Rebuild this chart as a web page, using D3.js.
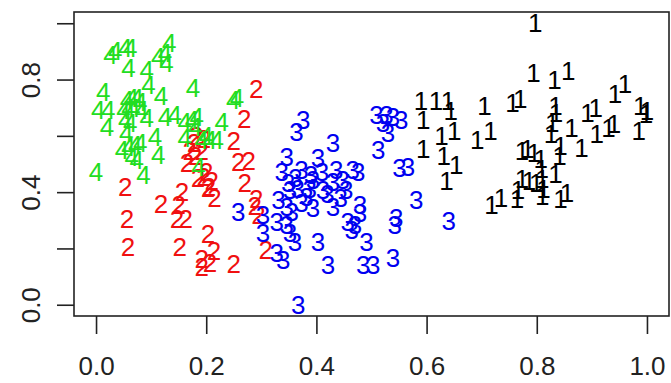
<!DOCTYPE html>
<html>
<head>
<meta charset="utf-8">
<script src="https://cdn.jsdelivr.net/npm/d3@7"></script>
<style>
  html, body { margin: 0; padding: 0; background: #fff; }
  svg { display: block; }
</style>
</head>
<body>
<svg id="chart" width="671" height="383"></svg>
<script>
// Cluster members, drawn as their cluster number at (x, y)
const cluster1 = [
  [0.797,1.000],[0.794,0.824],[0.832,0.800],[0.857,0.830],[0.942,0.747],[0.960,0.783],
  [0.988,0.706],[0.998,0.676],[0.985,0.617],[0.590,0.724],[0.594,0.658],[0.617,0.724],
  [0.639,0.724],[0.644,0.688],[0.705,0.706],[0.756,0.718],[0.770,0.730],[0.627,0.599],
  [0.650,0.617],[0.692,0.587],[0.716,0.617],[0.594,0.552],[0.631,0.528],[0.654,0.498],
  [0.636,0.439],[0.718,0.356],[0.735,0.380],[0.764,0.374],[0.766,0.409],[0.773,0.546],
  [0.783,0.552],[0.795,0.540],[0.807,0.517],[0.809,0.482],[0.810,0.446],[0.812,0.410],
  [0.810,0.387],[0.773,0.445],[0.786,0.439],[0.799,0.433],[0.834,0.706],[0.835,0.682],
  [0.828,0.647],[0.826,0.605],[0.843,0.563],[0.841,0.528],[0.834,0.463],[0.843,0.374],
  [0.855,0.397],[0.863,0.629],[0.881,0.558],[0.892,0.682],[0.907,0.700],[0.909,0.605],
  [0.930,0.629],[0.940,0.641],[1.000,0.690]
];
const cluster2 = [
  [0.291,0.765],[0.269,0.660],[0.250,0.580],[0.258,0.506],[0.277,0.510],[0.270,0.433],
  [0.291,0.374],[0.288,0.350],[0.295,0.318],[0.308,0.196],[0.250,0.144],[0.053,0.420],
  [0.056,0.305],[0.058,0.204],[0.118,0.358],[0.156,0.400],[0.150,0.356],[0.147,0.305],
  [0.163,0.305],[0.152,0.204],[0.203,0.252],[0.214,0.192],[0.192,0.163],[0.192,0.133],
  [0.207,0.150],[0.182,0.600],[0.170,0.545],[0.165,0.505],[0.180,0.530],[0.192,0.545],
  [0.200,0.470],[0.210,0.440],[0.203,0.415],[0.215,0.380],[0.195,0.455],[0.178,0.575],
  [0.196,0.590],[0.205,0.420],[0.185,0.450]
];
const cluster3 = [
  [0.376,0.656],[0.364,0.615],[0.430,0.573],[0.509,0.674],[0.527,0.674],[0.539,0.668],
  [0.554,0.656],[0.521,0.644],[0.530,0.609],[0.512,0.550],[0.551,0.485],[0.566,0.490],
  [0.346,0.526],[0.403,0.520],[0.337,0.472],[0.373,0.478],[0.394,0.443],[0.349,0.431],
  [0.352,0.407],[0.366,0.410],[0.382,0.384],[0.436,0.478],[0.466,0.478],[0.476,0.472],
  [0.430,0.437],[0.448,0.443],[0.412,0.407],[0.454,0.407],[0.331,0.372],[0.346,0.348],
  [0.355,0.330],[0.373,0.360],[0.394,0.342],[0.430,0.348],[0.258,0.330],[0.303,0.319],
  [0.328,0.295],[0.346,0.283],[0.479,0.354],[0.479,0.325],[0.457,0.295],[0.470,0.283],
  [0.464,0.265],[0.545,0.307],[0.542,0.283],[0.303,0.254],[0.352,0.254],[0.361,0.224],
  [0.403,0.224],[0.491,0.224],[0.328,0.183],[0.340,0.159],[0.421,0.141],[0.485,0.141],
  [0.503,0.141],[0.539,0.165],[0.367,0.000],[0.581,0.372],[0.640,0.297],[0.390,0.460],
  [0.410,0.470],[0.362,0.450],[0.420,0.395],[0.388,0.410],[0.444,0.380]
];
const cluster4 = [
  [0.026,0.887],[0.035,0.900],[0.053,0.911],[0.062,0.911],[0.059,0.840],[0.092,0.834],
  [0.095,0.780],[0.113,0.881],[0.125,0.893],[0.128,0.858],[0.133,0.930],[0.118,0.740],
  [0.176,0.770],[0.249,0.727],[0.256,0.733],[0.013,0.757],[0.004,0.692],[0.022,0.692],
  [0.020,0.630],[0.056,0.727],[0.065,0.733],[0.074,0.733],[0.080,0.721],[0.050,0.692],
  [0.059,0.698],[0.068,0.698],[0.083,0.692],[0.092,0.662],[0.053,0.656],[0.062,0.644],
  [0.055,0.610],[0.107,0.597],[0.125,0.668],[0.143,0.674],[0.113,0.532],[0.161,0.650],
  [0.174,0.656],[0.183,0.668],[0.180,0.632],[0.228,0.650],[0.161,0.591],[0.192,0.585],
  [0.207,0.585],[0.219,0.585],[0.047,0.550],[0.059,0.561],[0.071,0.567],[0.080,0.573],
  [0.074,0.514],[0.065,0.526],[0.000,0.472],[0.086,0.461],[0.186,0.490],[0.200,0.600]
];

const clusterLabels = ["1", "2", "3", "4"];
const clusterColors = ["#000000", "#f01010", "#0000f0", "#22dd22"];
const xTicks = [0, 0.2, 0.4, 0.6, 0.8, 1.0];
const yTicks = [0, 0.2, 0.4, 0.6, 0.8, 1.0];
const yTickLabels = [0, 0.4, 0.8];

const svg = d3.select("#chart");
const box = { left: 74, right: 669, top: 12, bottom: 316 };
const fontFamily = "'Liberation Sans', Arial, sans-serif";

// Data range 0..1 padded by 4% on each side
const x = d3.scaleLinear().domain([-0.04, 1.04]).range([box.left, box.right]);
const y = d3.scaleLinear().domain([-0.04, 1.04]).range([box.bottom, box.top]);

// Points drawn as their cluster number
const groups = [cluster1, cluster2, cluster3, cluster4];
groups.forEach((pts, i) => {
  svg.append("g")
    .selectAll("text")
    .data(pts)
    .join("text")
    .attr("x", d => x(d[0]))
    .attr("y", d => y(d[1]))
    .attr("text-anchor", "middle")
    .attr("dominant-baseline", "central")
    .attr("font-family", fontFamily)
    .attr("font-size", 26)
    .attr("fill", clusterColors[i])
    .text(clusterLabels[i]);
});

// Bottom axis
const xAxis = d3.axisBottom(x).tickValues(xTicks).tickSize(18).tickPadding(23)
  .tickFormat(d3.format(".1f"));
const gx = svg.append("g").attr("transform", `translate(0,${box.bottom})`).call(xAxis);
gx.select(".domain").remove();
gx.selectAll(".tick line").attr("stroke", "#222").attr("stroke-width", 1.6);
gx.selectAll(".tick text")
  .attr("font-family", fontFamily).attr("font-size", 26).attr("fill", "#222");

// Left axis, labels rotated and only every other one shown
const yAxis = d3.axisLeft(y).tickValues(yTicks).tickSize(17).tickPadding(0)
  .tickFormat(d => yTickLabels.some(v => Math.abs(v - d) < 1e-9) ? d3.format(".1f")(d) : "");
const gy = svg.append("g").attr("transform", `translate(${box.left},0)`).call(yAxis);
gy.select(".domain").remove();
gy.selectAll(".tick line").attr("stroke", "#222").attr("stroke-width", 1.6);
gy.selectAll(".tick text")
  .attr("font-family", fontFamily).attr("font-size", 26).attr("fill", "#222")
  .attr("text-anchor", "middle")
  .attr("dy", null)
  .attr("x", null)
  .attr("transform", "translate(-34,0) rotate(-90)");

// Plot frame
svg.append("rect")
  .attr("x", box.left).attr("y", box.top)
  .attr("width", box.right - box.left).attr("height", box.bottom - box.top)
  .attr("fill", "none").attr("stroke", "#222").attr("stroke-width", 1.6);
</script>
</body>
</html>
